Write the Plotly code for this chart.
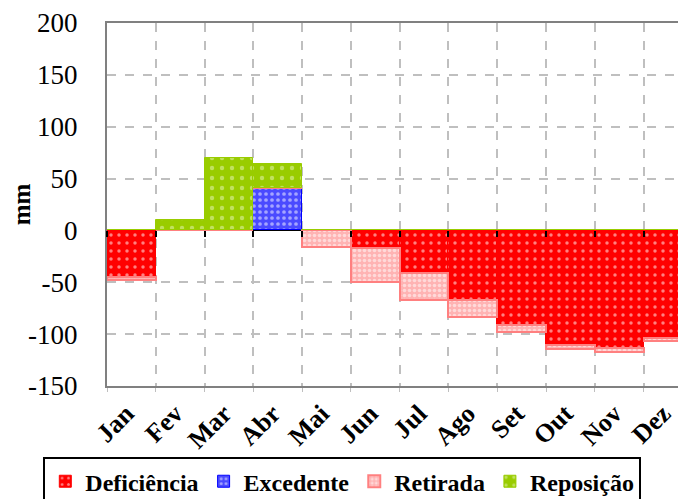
import plotly.graph_objects as go

months = ["Jan", "Fev", "Mar", "Abr", "Mai", "Jun", "Jul", "Ago", "Set", "Out", "Nov", "Dez"]
deficiencia = [-45, 0, 0, 0, 0, -17, -41, -67, -91, -110, -113, -104]
excedente = [0, 0, 0, 41, 0, 0, 0, 0, 0, 0, 0, 0]
retirada = [-3, 0, 0, 0, -16, -33, -26, -16, -7, -4, -4, -3]
reposicao = [0, 10, 70, 23, 0, 0, 0, 0, 0, 0, 0, 0]
y_ticks = [-150, -100, -50, 0, 50, 100, 150, 200]
y_tick_labels = ["-150", "-100", "-50", "0", "50", "100", "150", "200"]

serif = "Liberation Serif"
y_min, y_max = -150, 200

fig = go.Figure()
fig.add_trace(go.Bar(
    x=months, y=deficiencia, name="Deficiência",
    marker=dict(color="#ff0000", line=dict(color="#ff0000", width=1),
                pattern=dict(shape=".", fgcolor="white", size=8, solidity=0.15)),
))
fig.add_trace(go.Bar(
    x=months, y=excedente, name="Excedente",
    marker=dict(color="#4a4aff", line=dict(color="#0000ff", width=1),
                pattern=dict(shape=".", fgcolor="white", size=6, solidity=0.3)),
))
fig.add_trace(go.Bar(
    x=months, y=retirada, name="Retirada",
    marker=dict(color="#ffb3b3", line=dict(color="#ff8080", width=2),
                pattern=dict(shape=".", fgcolor="white", size=5, solidity=0.4)),
))
fig.add_trace(go.Bar(
    x=months, y=reposicao, name="Reposição",
    marker=dict(color="#99cc00", line=dict(color="#99cc00", width=1),
                pattern=dict(shape=".", fgcolor="#e8f5c0", size=10, solidity=0.15)),
))
# helper trace so the zero-line axis (category boundary ticks) is drawn
fig.add_trace(go.Scatter(
    x=months, y=deficiencia, xaxis="x2", mode="none",
    showlegend=False, hoverinfo="skip",
))

fig.update_layout(
    width=678, height=491,
    barmode="relative", bargap=0,
    plot_bgcolor="white", paper_bgcolor="white",
    margin=dict(l=99, r=0, t=15, b=113, autoexpand=False),
    font=dict(family=serif, color="black"),
    legend=dict(
        orientation="h", xref="paper", yref="paper",
        x=-0.11, xanchor="left", y=-0.196, yanchor="top",
        bordercolor="black", borderwidth=2,
        font=dict(size=24, family=serif, weight="bold"),
        itemwidth=30, traceorder="normal",
    ),
    xaxis=dict(
        type="category", range=[-0.5, 11.37], tickson="boundaries",
        tickangle=-45, tickfont=dict(size=26, family=serif, weight="bold"),
        ticklabelshift=-5,
        showgrid=True, gridcolor="#bfbfbf", griddash="dash", gridwidth=1.5,
        showline=True, linecolor="#808080", linewidth=2, mirror=True,
        ticks="outside", ticklen=4, tickcolor="#bfbfbf",
        automargin=False,
    ),
    xaxis2=dict(
        type="category", categoryarray=months, range=[-0.5, 11.37],
        tickson="boundaries", overlaying="x", anchor="free",
        position=(0 - y_min) / (y_max - y_min),
        showticklabels=False, showgrid=False, showline=False, zeroline=False,
        ticks="outside", ticklen=6, tickwidth=2, tickcolor="black",
        automargin=False,
    ),
    yaxis=dict(
        range=[y_min, y_max], tickvals=y_ticks, ticktext=y_tick_labels,
        tickfont=dict(size=27, family=serif),
        showgrid=True, gridcolor="#bfbfbf", griddash="dash", gridwidth=1.5,
        showline=True, linecolor="#808080", linewidth=2, mirror=True,
        zeroline=True, zerolinecolor="black", zerolinewidth=2,
        ticklabelstandoff=22, automargin=False,
        title=dict(text="mm", font=dict(size=25, family=serif, weight="bold"), standoff=8),
    ),
)

fig.write_html("out.html")
